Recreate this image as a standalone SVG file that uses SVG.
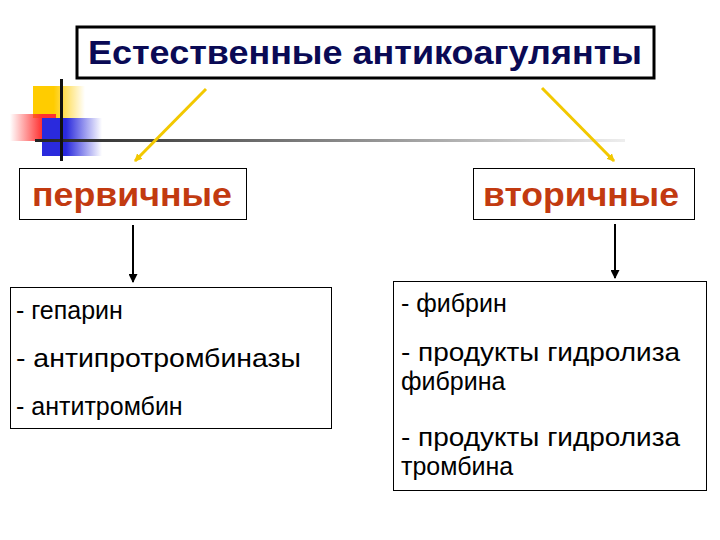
<svg xmlns="http://www.w3.org/2000/svg" width="720" height="540" viewBox="0 0 720 540">
<defs>
<style>
.box{fill:#fff;stroke:#000;stroke-width:1}
.hd{font-family:"Liberation Sans",Arial,sans-serif;font-weight:bold;font-size:34px;fill:#c23a10}
.it{font-family:"Liberation Sans",Arial,sans-serif;font-size:25px;fill:#000}
</style>
<linearGradient id="gy" x1="0" x2="1"><stop offset="0.4" stop-color="#ffcc00"/><stop offset="1" stop-color="#ffcc00" stop-opacity="0"/></linearGradient>
<linearGradient id="gr" x1="1" x2="0"><stop offset="0.3" stop-color="#ff3030"/><stop offset="1" stop-color="#ff3030" stop-opacity="0"/></linearGradient>
<linearGradient id="gb" x1="0" x2="1"><stop offset="0.4" stop-color="#2a2add"/><stop offset="1" stop-color="#2a2add" stop-opacity="0"/></linearGradient>
<linearGradient id="gl" x1="0" x2="1"><stop offset="0" stop-color="#222"/><stop offset="0.6" stop-color="#999"/><stop offset="1" stop-color="#eee"/></linearGradient>
<marker id="ay" markerWidth="8" markerHeight="8" refX="7" refY="4" orient="auto" markerUnits="userSpaceOnUse"><path d="M0,0 L8,4 L0,8 Z" fill="#f2c800"/></marker>
<marker id="ak" markerWidth="9" markerHeight="9" refX="8" refY="4.5" orient="auto" markerUnits="userSpaceOnUse"><path d="M0,0 L9,4.5 L0,9 Z" fill="#000"/></marker>
</defs>
<g id="decor">
<rect x="33" y="86" width="52" height="32" fill="url(#gy)"/>
<rect x="10" y="114" width="46" height="27" fill="url(#gr)"/>
<rect x="42" y="118" width="60" height="38" fill="url(#gb)"/>
<rect x="35" y="139" width="590" height="3" fill="url(#gl)"/>
<rect x="60" y="79" width="3" height="82" fill="#111"/>
</g>
<g id="title">
<rect x="77" y="27" width="577" height="51" fill="#fff" stroke="#000" stroke-width="3"/>
<text x="88" y="64" textLength="554" lengthAdjust="spacingAndGlyphs" font-family="Liberation Sans,Arial,sans-serif" font-weight="bold" font-size="33" fill="#0a0a55">Естественные антикоагулянты</text>
</g>
<g id="primary">
<rect class="box" x="19.5" y="168.5" width="227" height="51"/>
<text class="hd" x="32" y="206" textLength="200" lengthAdjust="spacingAndGlyphs">первичные</text>
</g>
<g id="secondary">
<rect class="box" x="473.5" y="168.5" width="221" height="51"/>
<text class="hd" x="483" y="206" textLength="196" lengthAdjust="spacingAndGlyphs">вторичные</text>
</g>
<g id="left-list">
<rect class="box" x="10.5" y="287.5" width="321" height="141"/>
<text class="it" x="16" y="319">- гепарин</text>
<text class="it" x="16" y="367" textLength="285" lengthAdjust="spacingAndGlyphs">- антипротромбиназы</text>
<text class="it" x="16" y="415">- антитромбин</text>
</g>
<g id="right-list">
<rect class="box" x="393.5" y="281.5" width="313" height="209"/>
<text class="it" x="401" y="312">- фибрин</text>
<text class="it" x="401" y="361" textLength="279" lengthAdjust="spacingAndGlyphs">- продукты гидролиза</text>
<text class="it" x="401" y="390">фибрина</text>
<text class="it" x="401" y="446" textLength="279" lengthAdjust="spacingAndGlyphs">- продукты гидролиза</text>
<text class="it" x="401" y="475">тромбина</text>
</g>
<g id="connectors">
<line x1="206" y1="89" x2="135" y2="161" stroke="#f2c800" stroke-width="3" marker-end="url(#ay)"/>
<line x1="542" y1="88" x2="614" y2="161" stroke="#f2c800" stroke-width="3" marker-end="url(#ay)"/>
<line x1="133" y1="225" x2="133" y2="282" stroke="#000" stroke-width="2" marker-end="url(#ak)"/>
<line x1="615" y1="224" x2="615" y2="278" stroke="#000" stroke-width="2" marker-end="url(#ak)"/>
</g>
</svg>
